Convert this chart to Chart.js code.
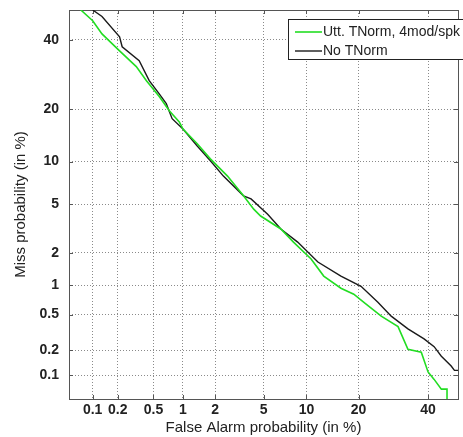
<!DOCTYPE html>
<html>
<head>
<meta charset="utf-8">
<script src="https://cdn.jsdelivr.net/npm/chart.js@4"></script>
<style>
  html, body { margin: 0; padding: 0; background: #fff; }
  #wrap { width: 463px; height: 437px; }
</style>
</head>
<body>
<div id="wrap"><canvas id="det"></canvas></div>
<script>
// DET plot, both axes on a normal deviate scale (values in %)
const tickValues = [0.1, 0.2, 0.5, 1, 2, 5, 10, 20, 40];
const axisMin = 0.05;
const axisMax = 50;

const seriesNames = ['Utt. TNorm, 4mod/spk', 'No TNorm'];

// green curve
const faTnorm = [0.071, 0.1, 0.13, 0.21, 0.325, 0.42, 0.575, 0.73, 0.92, 1.0, 1.37, 1.81, 2.56, 3.48, 4.2, 4.75, 6.7, 8.2, 10.7, 12.8, 16.1, 18.9, 21.3, 25.8, 30.6, 33.6, 37.8, 40, 42, 44.4, 46.3, 46.3];
const missTnorm = [50, 46.4, 42, 36.5, 31.6, 27.5, 23.2, 19.7, 17.2, 15.7, 12.9, 10.4, 8.0, 5.8, 4.6, 4.07, 3.2, 2.48, 1.76, 1.22, 0.93, 0.81, 0.67, 0.48, 0.37, 0.205, 0.19, 0.11, 0.089, 0.067, 0.067, 0.05];

// black curve
const faNone = [0.1, 0.13, 0.21, 0.225, 0.35, 0.45, 0.575, 0.68, 0.78, 1.0, 1.37, 1.81, 2.36, 3.48, 4.0, 5.37, 6.7, 8.75, 11.8, 16.1, 20.6, 24.9, 28.6, 33.6, 38.7, 42, 44.4, 47.7, 48.8, 50];
const missNone = [50, 47.8, 41, 37.8, 33.4, 27.5, 23.9, 21.4, 17.9, 15.7, 12.5, 10.1, 8.0, 5.8, 5.5, 4.2, 3.2, 2.48, 1.65, 1.22, 0.97, 0.67, 0.48, 0.35, 0.27, 0.22, 0.17, 0.13, 0.115, 0.115];

const lineColors = ['#22dd22', '#1a1a1a'];

// inverse normal cdf (Acklam)
function probit(p) {
  const a = [-3.969683028665376e+01, 2.209460984245205e+02, -2.759285104469687e+02, 1.383577518672690e+02, -3.066479806614716e+01, 2.506628277459239e+00];
  const b = [-5.447609879822406e+01, 1.615858368580409e+02, -1.556989798598866e+02, 6.680131188771972e+01, -1.328068155288572e+01];
  const c = [-7.784894002430293e-03, -3.223964580411365e-01, -2.400758277161838e+00, -2.549732539343734e+00, 4.374664141464968e+00, 2.938163982698783e+00];
  const d = [7.784695709041462e-03, 3.224671290700398e-01, 2.445134137142996e+00, 3.754408661907416e+00];
  const pl = 0.02425;
  let q, r;
  if (p < pl) {
    q = Math.sqrt(-2 * Math.log(p));
    return (((((c[0]*q+c[1])*q+c[2])*q+c[3])*q+c[4])*q+c[5]) / ((((d[0]*q+d[1])*q+d[2])*q+d[3])*q+1);
  } else if (p <= 1 - pl) {
    q = p - 0.5; r = q * q;
    return (((((a[0]*r+a[1])*r+a[2])*r+a[3])*r+a[4])*r+a[5])*q / (((((b[0]*r+b[1])*r+b[2])*r+b[3])*r+b[4])*r+1);
  }
  q = Math.sqrt(-2 * Math.log(1 - p));
  return -(((((c[0]*q+c[1])*q+c[2])*q+c[3])*q+c[4])*q+c[5]) / ((((d[0]*q+d[1])*q+d[2])*q+d[3])*q+1);
}

const toPoints = (fa, miss) => fa.map((v, i) => ({ x: probit(v / 100), y: probit(miss[i] / 100) }));

const fontFamily = 'Arial, "Liberation Sans", sans-serif';

function detAxis(title, isY) {
  return {
    type: 'linear',
    min: probit(axisMin / 100),
    max: probit(axisMax / 100),
    afterBuildTicks: (s) => { s.ticks = tickValues.map(v => ({ value: probit(v / 100) })); },
    afterFit: (s) => {
      // fixed plot box, ignore the label overhang padding
      if (isY) { s.width = 69; s.paddingTop = 0; s.paddingBottom = 0; }
      else { s.height = 38; s.paddingLeft = 0; s.paddingRight = 0; }
    },
    ticks: {
      autoSkip: false, maxRotation: 0, color: '#222', padding: isY ? 10 : 3,
      font: { family: fontFamily, size: 14, weight: 'bold' },
      callback: (v, i) => String(tickValues[i])
    },
    grid: { color: '#8a8a8a', lineWidth: 1, drawTicks: false },
    border: { display: false, dash: [1, 2] },
    title: {
      display: true, text: title, color: '#222',
      font: { family: fontFamily, size: 15 },
      padding: isY ? { top: 12, bottom: 0 } : { top: 0, bottom: 0 }
    }
  };
}

// box, inner tick marks and legend drawn inside the axes
const boxPlugin = {
  id: 'boxPlugin',
  beforeDatasetsDraw(chart) {
    const { ctx, chartArea: a, scales } = chart;
    ctx.save();
    ctx.strokeStyle = '#555';
    ctx.lineWidth = 1;
    ctx.strokeRect(a.left + 0.5, a.top + 0.5, a.right - a.left, a.bottom - a.top);
    ctx.beginPath();
    scales.x.ticks.forEach(t => {
      const x = Math.round(scales.x.getPixelForValue(t.value)) + 0.5;
      ctx.moveTo(x, a.bottom); ctx.lineTo(x, a.bottom - 4);
      ctx.moveTo(x, a.top); ctx.lineTo(x, a.top + 4);
    });
    scales.y.ticks.forEach(t => {
      const y = Math.round(scales.y.getPixelForValue(t.value)) + 0.5;
      ctx.moveTo(a.left, y); ctx.lineTo(a.left + 4, y);
      ctx.moveTo(a.right, y); ctx.lineTo(a.right - 4, y);
    });
    ctx.stroke();
    ctx.restore();
  },
  afterDraw(chart) {
    const { ctx, chartArea: a } = chart;
    const left = a.right - 170, top = a.top + 9;
    ctx.save();
    ctx.fillStyle = '#fff';
    ctx.fillRect(left, top, 190, 40);
    ctx.strokeStyle = '#222';
    ctx.lineWidth = 1;
    ctx.strokeRect(left + 0.5, top + 0.5, 190, 40);
    ctx.font = '14px ' + fontFamily;
    ctx.textBaseline = 'middle';
    chart.data.datasets.forEach((ds, i) => {
      const y = top + 13 + i * 19;
      ctx.strokeStyle = ds.borderColor;
      ctx.lineWidth = ds.borderWidth;
      ctx.beginPath();
      ctx.moveTo(left + 7, y);
      ctx.lineTo(left + 34, y);
      ctx.stroke();
      ctx.fillStyle = '#222';
      ctx.fillText(ds.label, left + 35, y);
    });
    ctx.restore();
  }
};

new Chart(document.getElementById('det'), {
  type: 'scatter',
  data: {
    datasets: [
      { label: seriesNames[0], data: toPoints(faTnorm, missTnorm), borderColor: lineColors[0], backgroundColor: lineColors[0], borderWidth: 1.6, showLine: true, pointRadius: 0, tension: 0 },
      { label: seriesNames[1], data: toPoints(faNone, missNone), borderColor: lineColors[1], backgroundColor: lineColors[1], borderWidth: 1.4, showLine: true, pointRadius: 0, tension: 0 }
    ]
  },
  options: {
    responsive: true,
    maintainAspectRatio: false,
    animation: false,
    layout: { padding: { left: 0, right: 5, top: 10, bottom: 0 } },
    plugins: { legend: { display: false }, tooltip: { enabled: false } },
    scales: {
      x: detAxis('False Alarm probability (in %)', false),
      y: detAxis('Miss probability (in %)', true)
    }
  },
  plugins: [boxPlugin]
});
</script>
</body>
</html>
